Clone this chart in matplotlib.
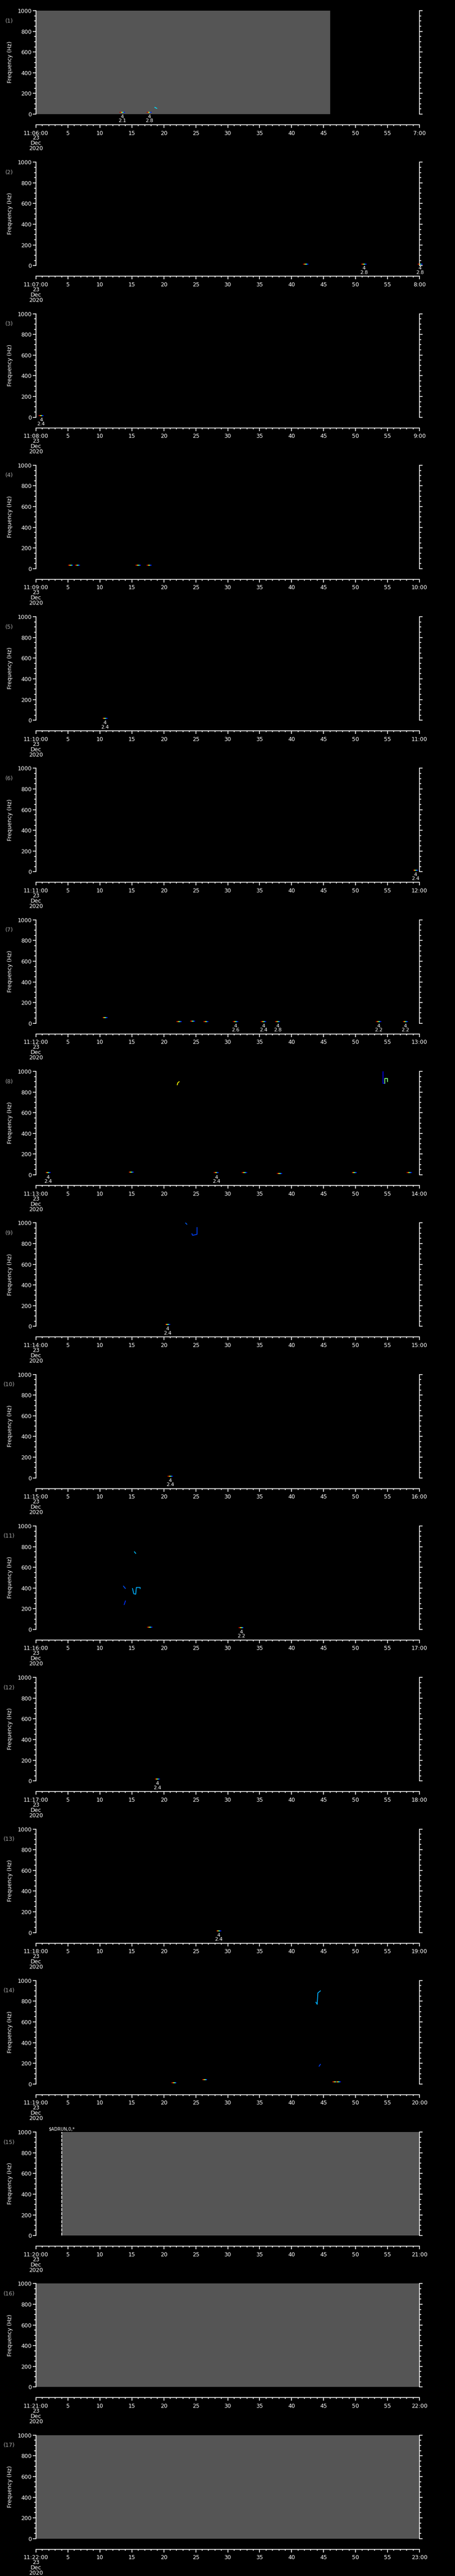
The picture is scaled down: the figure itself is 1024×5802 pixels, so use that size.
import numpy as np
import matplotlib
matplotlib.use('Agg')
from matplotlib import pyplot as plt
from matplotlib.ticker import MultipleLocator

## data
minutes = list(range(6, 23))           # one panel per minute, 11:06 .. 11:22
date_lines = ['23', 'Dec', '2020']

# grey "no data" spans (panel number -> start s, end s)
gray_panels = [1, 15, 16, 17]
gray_start = [0, 4, 0, 0]
gray_end = [46, 60, 60, 60]

# dashed mode-change line
event_panel = 15
event_sec = 4
event_text = '$ADRUN,0,*'

# short detection strips near the bottom of each panel
mark_panel = [1, 1, 2, 2, 2, 3, 4, 4, 4, 4, 5, 6,
              7, 7, 7, 7, 7, 7, 7, 7, 7,
              8, 8, 8, 8, 8, 8, 8,
              9, 10, 11, 11, 12, 13,
              14, 14, 14, 14]
mark_sec = [13.5, 17.7, 42.2, 51.3, 60.1, 0.8, 5.4, 6.5, 16.0, 17.7, 10.8, 59.4,
            10.8, 22.4, 24.5, 26.6, 31.2, 35.6, 37.8, 53.6, 57.8,
            1.9, 14.9, 28.2, 32.6, 38.1, 49.8, 58.4,
            20.6, 21.0, 17.8, 32.1, 19.0, 28.6,
            21.6, 26.4, 46.8, 47.3]
mark_freq = [17, 17, 13, 13, 13, 17, 35, 35, 35, 35, 17, 17,
             56, 17, 20, 17, 17, 17, 17, 17, 17,
             20, 24, 20, 20, 12, 22, 20,
             17, 17, 22, 17, 17, 17,
             13, 43, 20, 20]
mark_label = ['2.1', '2.8', None, '2.8', '2.8', '2.4', None, None, None, None, '2.4', '2.4',
              None, None, None, None, '2.6', '2.4', '2.8', '2.2', '2.2',
              '2.4', None, '2.4', None, None, None, None,
              '2.4', '2.4', None, '2.2', '2.4', '2.4',
              None, None, None, None]

# traces higher up in frequency
trace_panel = [1, 8, 8, 8, 9, 9, 11, 11, 11, 11, 14, 14]
trace_sec = [[18.6, 18.9],
             [22.1, 22.2, 22.4],
             [54.3, 54.3, 54.6],
             [54.6, 54.6, 55.0, 55.0],
             [23.4, 23.6],
             [24.4, 24.5, 24.9, 25.2, 25.2],
             [13.7, 13.9, 14.0],
             [13.8, 14.0],
             [15.1, 15.3, 15.6, 15.7, 16.3, 16.3],
             [15.4, 15.6],
             [43.8, 44.0, 44.1, 44.5],
             [44.3, 44.5]]
trace_freq = [[65, 55],
              [870, 890, 900],
              [1000, 885, 885],
              [885, 930, 930, 900],
              [1000, 987],
              [895, 880, 885, 890, 955],
              [418, 400, 397],
              [240, 275],
              [395, 345, 340, 405, 405, 395],
              [750, 735],
              [790, 770, 880, 900],
              [172, 190]]
trace_color = ['#00e0ff', '#ffff00', '#0000ff', '#80ff80', '#0060ff', '#0040ff',
               '#0050ff', '#0030ff', '#00b0ff', '#00c0ff', '#00b0ff', '#0040ff']

## layout helpers
W, H = 1024, 5802
PH = H / 17.0


def rect(x0, y0, x1, y1):
    return [x0 / W, 1 - y1 / H, (x1 - x0) / W, (y1 - y0) / H]


jet = plt.get_cmap('jet')
strip_cols = [jet(v) for v in (0.95, 0.7, 0.4, 0.15)]

fig = plt.figure(figsize=(W / 100, H / 100), dpi=100, facecolor='black')
fs = 9

for ind, minute in enumerate(minutes):
    pnum = ind + 1
    off = ind * PH

    ax = fig.add_axes(rect(81, off + 24, 944, off + 257))
    ax.set_facecolor('black')
    ax.set_xlim(0, 60)
    ax.set_ylim(0, 1000)
    for side in ['top', 'bottom']:
        ax.spines[side].set_visible(False)
    for side in ['left', 'right']:
        ax.spines[side].set_color('white')
        ax.spines[side].set_linewidth(1.2)
    ax.set_xticks([])
    ax.set_yticks(range(0, 1001, 200))
    ax.yaxis.set_minor_locator(MultipleLocator(50))
    ax.yaxis.set_ticks_position('both')
    ax.tick_params(axis='y', which='major', direction='out', length=5, width=1.2,
                   color='white', labelcolor='white', labelsize=fs, pad=2)
    ax.tick_params(axis='y', which='minor', direction='out', length=3, width=1.2,
                   color='white')

    # grey spans
    for gp, g0, g1 in zip(gray_panels, gray_start, gray_end):
        if gp == pnum:
            ax.axvspan(g0, g1, color='#555555', lw=0, zorder=0)

    if pnum == event_panel:
        ax.axvline(event_sec, color='white', lw=1.2, ls=(0, (4, 1.5)), zorder=3)
        ax.text(event_sec, 1030, event_text, color='white', fontsize=7,
                ha='center', va='center', clip_on=False)

    # detection strips
    for mp, ms, mf, ml in zip(mark_panel, mark_sec, mark_freq, mark_label):
        if mp != pnum:
            continue
        edges = np.linspace(ms - 0.4, ms + 0.4, 5)
        for k in range(4):
            ax.plot(edges[k:k + 2], [mf, mf], color=strip_cols[k], lw=1.6,
                    solid_capstyle='butt', clip_on=False, zorder=4)
        if ml is not None:
            ax.text(ms, -26, '4', color='white', fontsize=8, ha='center',
                    va='center', clip_on=False)
            ax.text(ms, -66, ml, color='white', fontsize=8, ha='center',
                    va='center', clip_on=False)

    # traces
    for tp, ts, tf, tc in zip(trace_panel, trace_sec, trace_freq, trace_color):
        if tp == pnum:
            ax.plot(ts, tf, color=tc, lw=1.3, zorder=4)

    # labels
    fig.text(23 / W, 1 - (off + 140) / H, 'Frequency (Hz)', color='white',
             fontsize=fs, rotation=90, ha='center', va='center')
    fig.text(21 / W, 1 - (off + 47) / H, '(%d)' % pnum, color='#a8a8a8',
             fontsize=fs, ha='center', va='center')

    # time axis
    tax = fig.add_axes(rect(81, off + 280, 944, off + 281))
    tax.patch.set_visible(False)
    for side in ['top', 'left', 'right']:
        tax.spines[side].set_visible(False)
    tax.spines['bottom'].set_color('white')
    tax.spines['bottom'].set_linewidth(1.2)
    tax.set_yticks([])
    tax.set_xlim(0, 60)
    tax.set_xticks(range(0, 61, 5))
    tax.xaxis.set_minor_locator(MultipleLocator(1))
    labels = ['11:%02d:00' % minute] + [str(k) for k in range(5, 60, 5)] + ['%d:00' % (minute + 1)]
    tax.set_xticklabels(labels)
    tax.tick_params(axis='x', which='major', direction='out', length=5, width=1.2,
                    color='white', labelcolor='white', labelsize=fs, pad=4)
    tax.tick_params(axis='x', which='minor', direction='out', length=2.5, width=1.2,
                    color='white')
    for k, txt in enumerate(date_lines):
        fig.text(81 / W, 1 - (off + 311 + 12 * k) / H, txt, color='white',
                 fontsize=fs, ha='center', va='center')

fig.savefig('out.png', dpi=100, facecolor='black')
